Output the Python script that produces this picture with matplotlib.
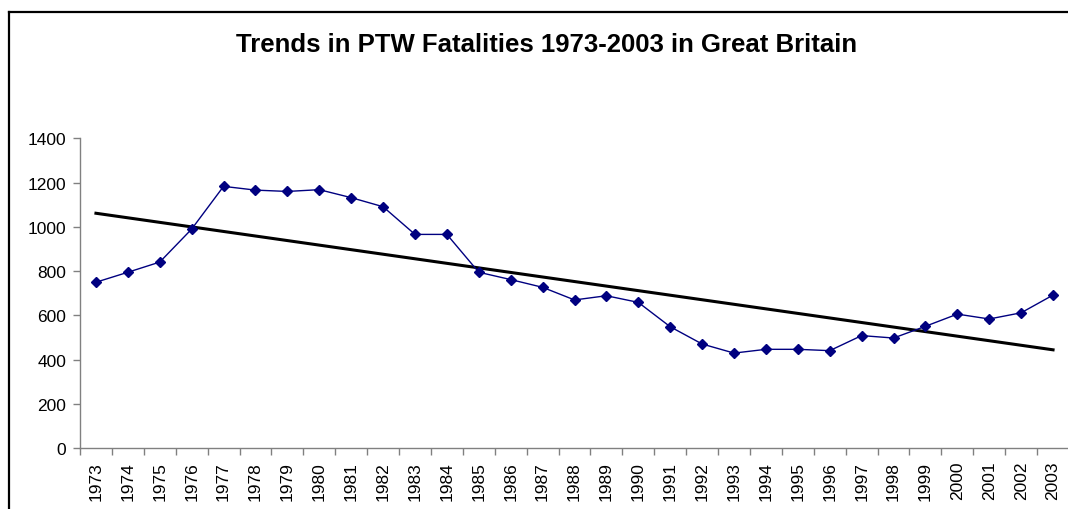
import numpy as np
import matplotlib
matplotlib.use("Agg")
import matplotlib.pyplot as plt
from matplotlib.lines import Line2D

plt.rcParams['font.family'] = ['Liberation Sans', 'DejaVu Sans']

years = [str(y) for y in range(1973, 2004)]
fatalities = [750, 795, 841, 990, 1183, 1166, 1160, 1168, 1132, 1091,
              966, 966, 795, 762, 727, 670, 689, 659, 549, 471,
              430, 447, 447, 441, 509, 498, 551, 606, 584, 612, 692]
yticks = [0, 200, 400, 600, 800, 1000, 1200, 1400]
title = "Trends in PTW Fatalities 1973-2003 in Great Britain"

W, H = 1068, 510
fig = plt.figure(figsize=(W / 100, H / 100), dpi=100)
ax = fig.add_axes([80 / W, (H - 449.3) / H, (1069 - 80) / W, (449.3 - 139.3) / H])

x = np.arange(len(years))
ax.plot(x, fatalities, color='#000080', lw=1.0, marker='D', ms=5.5,
        markerfacecolor='#000080', markeredgecolor='#000080', zorder=3)

# linear trend line (Excel-style) computed from the data
coef = np.polyfit(x, fatalities, 1)
ax.plot([x[0], x[-1]], np.polyval(coef, [x[0], x[-1]]), color='black', lw=2.2, zorder=2)

ax.set_xlim(-0.5, len(years) - 0.5)
ax.set_ylim(0, 1400)
ax.set_yticks(yticks)
ax.set_yticklabels([str(v) for v in yticks], fontsize=12.5)
ax.set_xticks(x)
ax.set_xticklabels(years, rotation=90, fontsize=12.5)
ax.tick_params(axis='x', length=0, pad=9)
ax.set_xticks(np.arange(-0.5, len(years), 1.0), minor=True)
ax.tick_params(axis='x', which='minor', length=5, color='#808080', width=1)
ax.tick_params(axis='y', length=5, color='#808080', width=1, pad=5)
for s in ['top', 'right']:
    ax.spines[s].set_visible(False)
for s in ['left', 'bottom']:
    ax.spines[s].set_color('#808080')
    ax.spines[s].set_linewidth(1)
ax.set_facecolor('none')

fig.text(547 / W, 1 - 45 / H, title, fontsize=18.5, fontweight='bold',
         ha='center', va='center')

# chart-area frame (left and top edges visible, rest cropped)
fig.add_artist(Line2D([9 / W, 9 / W], [0, 1 - 12.5 / H], transform=fig.transFigure,
                      color='black', lw=1.6))
fig.add_artist(Line2D([8.5 / W, 1.0], [1 - 12.5 / H, 1 - 12.5 / H], transform=fig.transFigure,
                      color='black', lw=1.6))

fig.savefig('out.png', dpi=100)
